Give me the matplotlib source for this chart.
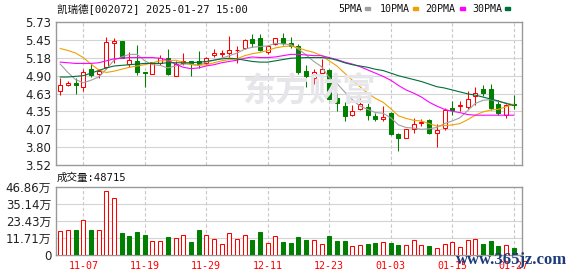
import numpy as np
import matplotlib
matplotlib.use("Agg")
import matplotlib.pyplot as plt
from matplotlib.patches import Rectangle

# trading days shown (MM-DD)
dates = ["11-04", "11-05", "11-06", "11-07", "11-08", "11-11", "11-12", "11-13", "11-14", "11-15",
         "11-18", "11-19", "11-20", "11-21", "11-22", "11-25", "11-26", "11-27", "11-28", "11-29",
         "12-02", "12-03", "12-04", "12-05", "12-06", "12-09", "12-10", "12-11", "12-12", "12-13",
         "12-16", "12-17", "12-18", "12-19", "12-20", "12-23", "12-24", "12-25", "12-26", "12-27",
         "12-30", "12-31", "01-02", "01-03", "01-06", "01-07", "01-08", "01-09", "01-10", "01-13",
         "01-14", "01-15", "01-16", "01-17", "01-20", "01-21", "01-22", "01-23", "01-24", "01-27"]
tick_dates = ["11-07", "11-19", "11-29", "12-11", "12-23", "01-03", "01-15", "01-27"]

opens = [4.67, 4.76, 4.79, 4.72, 5.00, 4.93, 5.04, 5.41, 5.43, 5.08,
         5.13, 4.96, 4.92, 5.10, 5.18, 4.90, 5.09, 5.12, 5.13, 5.09,
         5.22, 5.235, 5.255, 5.29, 5.33, 5.47, 5.49, 5.26, 5.39, 5.49,
         5.41, 5.36, 4.97, 4.87, 4.94, 4.99, 4.56, 4.43, 4.30, 4.38,
         4.42, 4.28, 4.23, 4.33, 4.00, 3.93, 4.08, 4.17, 4.22, 4.02,
         4.09, 4.40, 4.43, 4.41, 4.58, 4.69, 4.69, 4.46, 4.30, 4.46]
highs = [4.87, 4.82, 4.86, 5.01, 5.08, 5.01, 5.50, 5.49, 5.44, 5.27,
         5.37, 4.96, 5.11, 5.22, 5.31, 5.12, 5.25, 5.12, 5.28, 5.19,
         5.31, 5.30, 5.51, 5.36, 5.47, 5.54, 5.54, 5.37, 5.49, 5.56,
         5.50, 5.39, 5.07, 5.01, 5.16, 5.00, 4.64, 4.50, 4.45, 4.57,
         4.48, 4.33, 4.43, 4.34, 4.01, 4.08, 4.25, 4.23, 4.23, 4.15,
         4.40, 4.51, 4.51, 4.67, 4.73, 4.76, 4.77, 4.53, 4.47, 4.60]
lows = [4.60, 4.74, 4.61, 4.67, 4.88, 4.86, 5.01, 5.09, 5.17, 5.04,
        4.91, 4.73, 4.92, 5.06, 4.91, 4.90, 5.06, 4.90, 5.02, 5.07,
        5.19, 5.19, 5.19, 5.10, 5.32, 5.35, 5.28, 5.24, 5.37, 5.38,
        5.33, 4.93, 4.72, 4.77, 4.92, 4.51, 4.35, 4.20, 4.27, 4.37,
        4.22, 4.20, 4.20, 3.99, 3.73, 3.93, 4.01, 4.13, 4.00, 3.80,
        4.06, 4.29, 4.36, 4.38, 4.45, 4.58, 4.37, 4.30, 4.24, 4.39]
closes = [4.75, 4.78, 4.75, 4.96, 4.91, 4.98, 5.42, 5.44, 5.18, 5.14,
          4.96, 4.94, 5.11, 5.17, 4.93, 5.08, 5.12, 5.10, 5.08, 5.17,
          5.25, 5.245, 5.30, 5.30, 5.45, 5.40, 5.29, 5.36, 5.49, 5.40,
          5.36, 4.96, 4.90, 4.96, 5.01, 4.54, 4.48, 4.28, 4.36, 4.47,
          4.29, 4.23, 4.26, 4.00, 3.93, 4.08, 4.16, 4.19, 4.02, 4.06,
          4.37, 4.37, 4.45, 4.535, 4.63, 4.63, 4.40, 4.32, 4.44, 4.44]

ma5 = [5.08, 4.95, 4.84, 4.79, 4.83, 4.88, 5.00, 5.14, 5.19, 5.23,
       5.23, 5.13, 5.07, 5.06, 5.02, 5.05, 5.08, 5.08, 5.06, 5.11,
       5.14, 5.17, 5.21, 5.25, 5.31, 5.34, 5.35, 5.36, 5.40, 5.39,
       5.38, 5.31, 5.22, 5.12, 5.04, 4.87, 4.78, 4.65, 4.53, 4.43,
       4.38, 4.33, 4.32, 4.25, 4.14, 4.10, 4.09, 4.07, 4.08, 4.10,
       4.16, 4.20, 4.25, 4.36, 4.47, 4.52, 4.53, 4.50, 4.48, 4.45]
ma10 = [5.32, 5.29, 5.25, 5.18, 5.08, 4.99, 4.95, 4.97, 5.00, 5.03,
        5.05, 5.07, 5.10, 5.13, 5.13, 5.14, 5.11, 5.07, 5.06, 5.07,
        5.10, 5.13, 5.15, 5.16, 5.21, 5.24, 5.26, 5.29, 5.33, 5.35,
        5.36, 5.33, 5.29, 5.26, 5.21, 5.13, 5.05, 4.94, 4.83, 4.73,
        4.63, 4.55, 4.49, 4.39, 4.28, 4.24, 4.21, 4.20, 4.16, 4.12,
        4.13, 4.14, 4.16, 4.22, 4.29, 4.34, 4.37, 4.38, 4.42, 4.46]
ma20 = [5.11, 5.10, 5.09, 5.09, 5.09, 5.10, 5.13, 5.16, 5.17, 5.18,
        5.18, 5.18, 5.18, 5.17, 5.14, 5.08, 5.03, 5.01, 5.02, 5.05,
        5.07, 5.10, 5.12, 5.14, 5.17, 5.19, 5.18, 5.18, 5.19, 5.21,
        5.23, 5.23, 5.22, 5.21, 5.21, 5.18, 5.15, 5.11, 5.08, 5.04,
        4.99, 4.94, 4.89, 4.83, 4.75, 4.68, 4.63, 4.57, 4.49, 4.43,
        4.38, 4.35, 4.33, 4.30, 4.29, 4.29, 4.29, 4.29, 4.29, 4.29]
ma30 = [4.88, 4.88, 4.89, 4.90, 4.94, 4.98, 5.02, 5.05, 5.06, 5.07,
        5.08, 5.09, 5.09, 5.09, 5.10, 5.10, 5.10, 5.10, 5.11, 5.12,
        5.14, 5.16, 5.17, 5.16, 5.14, 5.12, 5.11, 5.11, 5.13, 5.15,
        5.17, 5.175, 5.18, 5.18, 5.18, 5.17, 5.14, 5.10, 5.07, 5.05,
        5.03, 5.00, 4.98, 4.94, 4.90, 4.87, 4.84, 4.81, 4.77, 4.73,
        4.71, 4.68, 4.65, 4.62, 4.60, 4.57, 4.54, 4.51, 4.47, 4.44]

# volume in 万 (10k); R = up bar, G = down bar
volumes = [16.5, 17.1, 17.1, 24.0, 17.1, 17.1, 43.9, 38.9, 15.1, 13.0,
           15.8, 13.7, 9.6, 9.6, 12.6, 11.7, 13.7, 8.9, 17.1, 13.7,
           11.0, 7.5, 15.1, 11.0, 13.7, 10.3, 15.8, 8.2, 13.0, 8.9,
           8.5, 12.6, 10.5, 10.3, 7.5, 13.0, 9.8, 9.6, 6.4, 6.9,
           7.5, 8.2, 8.9, 8.2, 6.9, 6.9, 10.3, 6.6, 6.2, 4.8,
           7.5, 8.9, 5.3, 10.3, 11.0, 7.5, 9.6, 6.2, 6.6, 4.8715]
vol_dir = list("RRGRGRRRGG" "GGRRGRRGGR" "RRRRRGGRRG" "GGGRRGGGRR" "GGRGGRRRGR" "RRRRRGGGRG")
last_volume = 48715

price_ticks = ["3.52", "3.80", "4.07", "4.35", "4.63", "4.90", "5.18", "5.45", "5.73"]
vol_ticks = ["0", "11.71万", "23.43万", "35.14万", "46.86万"]
vol_max = 46.86

ma_names = ["5PMA", "10PMA", "20PMA", "30PMA"]
ma_colors = ["#a0a0a0", "#f0a000", "#ff00ff", "#006e3a"]
RED = "#ff0000"
GREEN = "#007f00"

W, H = 578, 276
fig = plt.figure(figsize=(W / 100, H / 100), dpi=100)
ax_p = fig.add_axes([56 / W, 1 - 165 / H, 466 / W, 143 / H])
ax_v = fig.add_axes([56 / W, 1 - 255 / H, 466 / W, 68.3 / H])

x = np.arange(len(dates))
o = np.array(opens)
c = np.array(closes)
up = c >= o
tick_pos = [dates.index(d) for d in tick_dates]

for ax in (ax_p, ax_v):
    ax.set_xlim(-0.55, 60.08)
    for s in ax.spines.values():
        s.set_color("#999999")
        s.set_linewidth(1.0)
    ax.tick_params(length=0, labelsize=8.5, labelcolor="#222222")
    for p in tick_pos:
        ax.axvline(p, color="#c8c8c8", lw=0.8, dashes=(3, 2), zorder=0.5)

# price panel
ax_p.set_ylim(3.52, 5.73)
yt = np.linspace(3.52, 5.73, len(price_ticks))
ax_p.set_yticks(yt)
ax_p.set_yticklabels(price_ticks)
for v in yt[1:-1]:
    ax_p.axhline(v, color="#d4d4d4", lw=0.8, zorder=0.5)
ax_p.set_xticks([])

# site watermark in the middle of the price panel
fig.text(309 / W, 1 - 92 / H, "东方财富", fontsize=24, fontweight="bold",
         family=["Noto Sans CJK SC"], color="#e6e6ea", ha="center", va="center", zorder=0)

cols = np.where(up, RED, GREEN)
ax_p.vlines(x, lows, highs, colors=cols, lw=0.75, zorder=2)
body_lo = np.minimum(o, c)
body_h = np.maximum(np.abs(c - o), 0.006)
ax_p.bar(x, body_h, bottom=body_lo, width=0.52,
         color=np.where(up, "white", GREEN), edgecolor=cols, lw=0.75, zorder=3)

for vals, col in zip([ma5, ma10, ma20, ma30], ma_colors):
    ax_p.plot(x, vals, color=col, lw=0.8, zorder=4)

# volume panel
ax_v.set_ylim(0, vol_max)
vt = np.linspace(0, vol_max, len(vol_ticks))
ax_v.set_yticks(vt)
ax_v.set_yticklabels(vol_ticks, family=["DejaVu Sans", "Noto Sans CJK SC"])
for v in vt[1:-1]:
    ax_v.axhline(v, color="#d4d4d4", lw=0.8, zorder=0.5)
vup = np.array([d == "R" for d in vol_dir])
vcols = np.where(vup, RED, GREEN)
ax_v.bar(x, volumes, width=0.52, color=np.where(vup, "white", GREEN),
         edgecolor=vcols, lw=0.75, zorder=3)
ax_v.set_xticks(tick_pos)
ax_v.set_xticklabels(tick_dates, family="DejaVu Sans Mono", fontsize=7.2, color=RED)
ax_v.tick_params(axis="x", pad=4)

# header texts
mono_cjk = ["DejaVu Sans Mono", "Noto Sans CJK SC"]
fig.text(57 / W, 1 - 9 / H, "凯瑞德[002072] 2025-01-27 15:00", family=mono_cjk,
         fontsize=7.6, ha="left", va="center", color="#111111")
fig.text(57 / W, 1 - 177.5 / H, "成交量:%d" % last_volume, family=mono_cjk,
         fontsize=7.6, ha="left", va="center", color="#111111")

leg_x = [338.7, 379.7, 425.7, 472.0]
dash_x = [364.7, 413.0, 459.7, 505.3]
for name, col, lx, dx in zip(ma_names, ma_colors, leg_x, dash_x):
    fig.text(lx / W, 1 - 9 / H, name, family="DejaVu Sans Mono", fontsize=7.2,
             ha="left", va="center", color="#111111")
    fig.add_artist(Rectangle((dx / W, 1 - 10 / H), 5 / W, 2.5 / H,
                             transform=fig.transFigure, color=col))

fig.text(512 / W, 1 - 260 / H, "www.365jz.com", family="Liberation Serif",
         fontweight="bold", fontsize=12, color="#1f3c7a", ha="center", va="center", zorder=10)

fig.savefig("out.png", dpi=100)
